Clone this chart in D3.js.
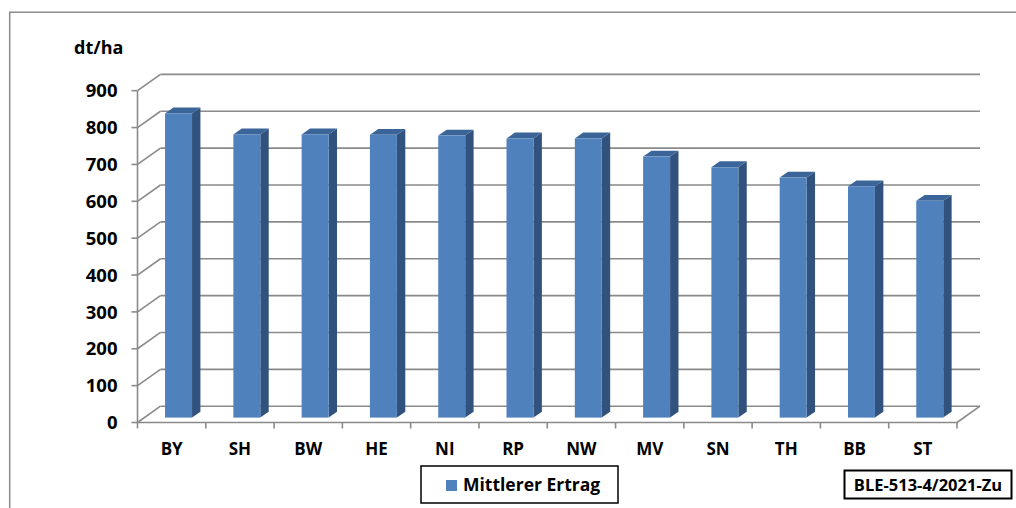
<!DOCTYPE html>
<html>
<head>
<meta charset="utf-8">
<script src="https://cdn.jsdelivr.net/npm/d3@7/dist/d3.min.js"></script>
<style>
  html, body { margin: 0; padding: 0; background: #fff; }
  svg { display: block; }
  text { font-family: "Open Sans", Lato, sans-serif; font-weight: bold; fill: #000; }
</style>
</head>
<body>
<svg id="chart" width="1016" height="508"></svg>
<script>
// Mittlerer Ertrag je Bundesland (dt/ha)
const categories = ["BY", "SH", "BW", "HE", "NI", "RP", "NW", "MV", "SN", "TH", "BB", "ST"];
const values = [825, 768, 768, 767, 765, 757, 757, 708, 679, 651, 627, 588];
const yTicks = [0, 100, 200, 300, 400, 500, 600, 700, 800, 900];
const seriesName = "Mittlerer Ertrag";
const unitLabel = "dt/ha";
const sourceLabel = "BLE-513-4/2021-Zu";

const svg = d3.select("#chart");

// front plane of the 3D plot box
const x = d3.scaleBand().domain(categories).range([137.5, 957]).paddingInner(0).paddingOuter(0);
const y = d3.scaleLinear().domain([0, 900]).range([422.5, 90.7]);
// depth projection (front -> back wall)
const DX = 23, DY = -16.3;
const grid = "#8a8a8a";

// outer chart frame
svg.append("path")
  .attr("d", "M9.7,508 L9.7,12.3 L1016,12.3")
  .attr("fill", "none").attr("stroke", "#8c8c8c").attr("stroke-width", 1.5);

// back wall gridlines + side wall diagonals
const wall = svg.append("g").attr("fill", "none").attr("stroke", grid).attr("stroke-width", 1.6);
yTicks.forEach(t => {
  const yf = y(t);
  wall.append("line")
    .attr("x1", x.range()[0] + DX).attr("x2", x.range()[1] + DX)
    .attr("y1", yf + DY).attr("y2", yf + DY);
  wall.append("line")
    .attr("x1", x.range()[0]).attr("y1", yf)
    .attr("x2", x.range()[0] + DX).attr("y2", yf + DY);
});
// floor: right edge
wall.append("line")
  .attr("x1", x.range()[1]).attr("y1", y(0))
  .attr("x2", x.range()[1] + DX).attr("y2", y(0) + DY);

// bars
const f1 = 0.3, f2 = 0.665;             // depth of front / back face of a column
const bw = x.bandwidth() * 0.395;
const bars = svg.append("g");
categories.forEach((c, i) => {
  const v = values[i];
  const cx = x(c) + x.bandwidth() / 2 + f1 * DX;
  const x0 = cx - bw / 2, x1 = cx + bw / 2;
  const yb = y(0) + f1 * DY, yt = y(v) + f1 * DY;
  const ddx = (f2 - f1) * DX, ddy = (f2 - f1) * DY;
  // side face
  bars.append("path")
    .attr("d", `M${x1},${yb} L${x1 + ddx},${yb + ddy} L${x1 + ddx},${yt + ddy} L${x1},${yt} Z`)
    .attr("fill", "#31527d");
  // top face
  bars.append("path")
    .attr("d", `M${x0},${yt} L${x0 + ddx},${yt + ddy} L${x1 + ddx},${yt + ddy} L${x1},${yt} Z`)
    .attr("fill", "#3b6599");
  // front face
  bars.append("rect")
    .attr("x", x0).attr("y", yt).attr("width", bw).attr("height", yb - yt)
    .attr("fill", "#4f81bd");
});

// front axes
const ax = svg.append("g").attr("stroke", grid).attr("stroke-width", 1.6).attr("fill", "none");
ax.append("line")
  .attr("x1", x.range()[0]).attr("x2", x.range()[0])
  .attr("y1", y(900)).attr("y2", y(0));
ax.append("line")
  .attr("x1", x.range()[0]).attr("x2", x.range()[1])
  .attr("y1", y(0)).attr("y2", y(0));
yTicks.forEach(t => {
  ax.append("line").attr("x1", x.range()[0] - 6).attr("x2", x.range()[0])
    .attr("y1", y(t)).attr("y2", y(t));
});
categories.concat([null]).forEach((c, i) => {
  const xx = c === null ? x.range()[1] : x(c);
  ax.append("line").attr("x1", xx).attr("x2", xx)
    .attr("y1", y(0)).attr("y2", y(0) + 6);
});

// y tick labels
svg.append("g").selectAll("text").data(yTicks).join("text")
  .attr("x", 117.5).attr("y", d => y(d))
  .attr("dy", "0.36em")
  .attr("text-anchor", "end")
  .attr("font-size", 18.5)
  .text(d => d);

// category labels
svg.append("g").selectAll("text").data(categories).join("text")
  .attr("x", d => x(d) + x.bandwidth() / 2).attr("y", 455)
  .attr("text-anchor", "middle")
  .attr("font-size", 17)
  .text(d => d);

// unit label
svg.append("text").attr("x", 74).attr("y", 53.5).attr("font-size", 18).text(unitLabel);

// legend
const lg = svg.append("g");
lg.append("rect").attr("x", 421).attr("y", 466).attr("width", 197).attr("height", 37)
  .attr("fill", "#fff").attr("stroke", "#000").attr("stroke-width", 1.5);
lg.append("rect").attr("x", 446).attr("y", 480).attr("width", 11).attr("height", 11)
  .attr("fill", "#4f81bd");
lg.append("text").attr("x", 463).attr("y", 491).attr("font-size", 17.5).text(seriesName);

// source box
const sb = svg.append("g");
sb.append("rect").attr("x", 844.5).attr("y", 470.5).attr("width", 167).attr("height", 28)
  .attr("fill", "#fff").attr("stroke", "#000").attr("stroke-width", 2);
sb.append("text").attr("x", 928).attr("y", 491).attr("text-anchor", "middle")
  .attr("font-size", 16.5).text(sourceLabel);
</script>
</body>
</html>
